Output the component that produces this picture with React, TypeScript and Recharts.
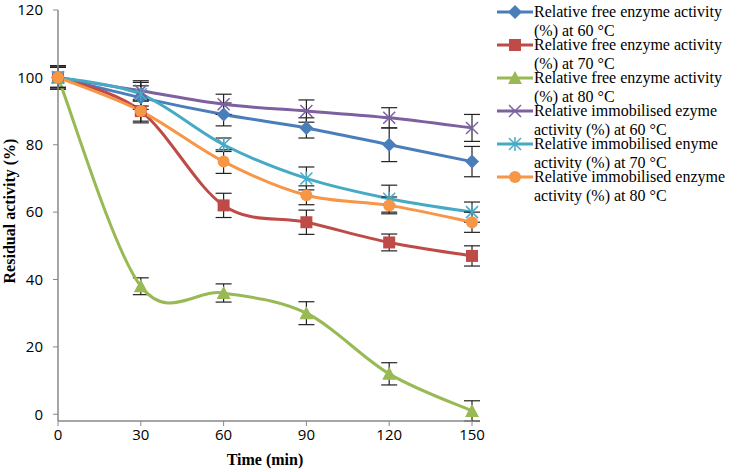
import { LineChart, Line, XAxis, YAxis, ErrorBar, Label } from 'recharts';

const times = [0, 30, 60, 90, 120, 150];

const free60 = [100, 94, 89, 85, 80, 75];
const free60Err = [3.5, 3.5, 3.4, 3, 5, 4.5];
const free70 = [100, 90, 62, 57, 51, 47];
const free70Err = [3.5, 3.5, 3.6, 3.6, 2.5, 3];
const free80 = [100, 38, 36, 30, 12, 1];
const free80Err = [3, 2.5, 2.7, 3.4, 3.3, 3];
const imm60 = [100, 96, 92, 90, 88, 85];
const imm60Err = [3, 3, 3, 3.3, 3, 4];
const imm70 = [100, 95, 80, 70, 64, 60];
const imm70Err = [3, 3.5, 2, 3.4, 4, 3];
const imm80 = [100, 90, 75, 65, 62, 57];
const imm80Err = [3, 3, 3.5, 2.8, 2.5, 3];

const yTicks = [0, 20, 40, 60, 80, 100, 120];

const series = [
    { key: 'free60', name: 'Relative free enzyme activity (%) at 60 °C', color: '#4A7EBB', shape: 'diamond' },
    { key: 'free70', name: 'Relative free enzyme activity (%) at 70 °C', color: '#BE4B48', shape: 'square' },
    { key: 'free80', name: 'Relative free enzyme activity (%) at 80 °C', color: '#98B954', shape: 'triangle' },
    { key: 'imm60', name: 'Relative immobilised ezyme activity (%) at 60 °C', color: '#7D60A0', shape: 'x' },
    { key: 'imm70', name: 'Relative immobilised enyme activity (%) at 70 °C', color: '#46AAC5', shape: 'star' },
    { key: 'imm80', name: 'Relative immobilised enzyme activity (%) at 80 °C', color: '#F79646', shape: 'circle' },
];

const data = times.map((t, i) => ({
    t,
    free60: free60[i], free60Err: free60Err[i],
    free70: free70[i], free70Err: free70Err[i],
    free80: free80[i], free80Err: free80Err[i],
    imm60: imm60[i], imm60Err: imm60Err[i],
    imm70: imm70[i], imm70Err: imm70Err[i],
    imm80: imm80[i], imm80Err: imm80Err[i],
}));

// excel-like smoothed line (catmull-rom through the points)
const excelSmooth = (ctx: any) => {
    let pts: number[][] = [];
    return {
        areaStart() {},
        areaEnd() {},
        lineStart() { pts = []; },
        point(x: number, y: number) { pts.push([+x, +y]); },
        lineEnd() {
            const n = pts.length;
            if (!n) return;
            ctx.moveTo(pts[0][0], pts[0][1]);
            for (let i = 0; i < n - 1; i++) {
                const p0 = pts[i - 1] || pts[i];
                const p1 = pts[i];
                const p2 = pts[i + 1];
                const p3 = pts[i + 2] || p2;
                ctx.bezierCurveTo(
                    p1[0] + (p2[0] - p0[0]) / 6, p1[1] + (p2[1] - p0[1]) / 6,
                    p2[0] - (p3[0] - p1[0]) / 6, p2[1] - (p3[1] - p1[1]) / 6,
                    p2[0], p2[1]
                );
            }
        },
    };
};

function Marker({ cx, cy, shape, color }: any) {
    const s = 6;
    if (shape === 'diamond')
        return <polygon points={`${cx},${cy - s - 1} ${cx + s + 1},${cy} ${cx},${cy + s + 1} ${cx - s - 1},${cy}`} fill={color} />;
    if (shape === 'square')
        return <rect x={cx - s} y={cy - s} width={2 * s} height={2 * s} fill={color} />;
    if (shape === 'triangle')
        return <polygon points={`${cx},${cy - s - 1} ${cx + s + 1},${cy + s} ${cx - s - 1},${cy + s}`} fill={color} />;
    if (shape === 'circle')
        return <circle cx={cx} cy={cy} r={s} fill={color} />;
    if (shape === 'x')
        return (
            <g stroke={color} strokeWidth={1.5}>
                <line x1={cx - s} y1={cy - s} x2={cx + s} y2={cy + s} />
                <line x1={cx - s} y1={cy + s} x2={cx + s} y2={cy - s} />
            </g>
        );
    return (
        <g stroke={color} strokeWidth={1.5}>
            <line x1={cx - s} y1={cy - s} x2={cx + s} y2={cy + s} />
            <line x1={cx - s} y1={cy + s} x2={cx + s} y2={cy - s} />
            <line x1={cx} y1={cy - s - 1} x2={cx} y2={cy + s + 1} />
        </g>
    );
}

function LegendBox() {
    return (
        <div style={{ position: 'absolute', left: 490, top: 0, width: 247, height: 220 }}>
            {series.map((s, i) => (
                <div key={s.key} style={{ position: 'absolute', left: 0, top: 2 + i * 33, width: 247 }}>
                    <svg width={38} height={20} style={{ position: 'absolute', left: 7, top: 0 }}>
                        <line x1={0} y1={10} x2={36} y2={10} stroke={s.color} strokeWidth={3} />
                        <Marker cx={18} cy={10} shape={s.shape} color={s.color} />
                    </svg>
                    <div
                        style={{
                            position: 'absolute',
                            left: 44,
                            top: 0,
                            width: 200,
                            fontFamily: '"Liberation Serif", "Times New Roman", serif',
                            fontSize: 16,
                            lineHeight: '19px',
                            color: '#000',
                            textAlign: 'left',
                        }}
                    >
                        {s.name}
                    </div>
                </div>
            ))}
        </div>
    );
}

const tickStyle = { fill: '#000', fontFamily: '"Open Sans", sans-serif', fontSize: 15 };
const axisLine = { stroke: '#888', strokeWidth: 1.5 };

export default function App() {
    return (
        <div style={{ position: 'absolute', left: 0, top: 0, width: 737, height: 472, background: '#fff' }}>
            <LineChart width={737} height={472} data={data} margin={{ top: 10, right: 265, bottom: 0, left: 0 }}>
                <XAxis
                    dataKey="t"
                    type="number"
                    domain={[0, 150]}
                    ticks={times}
                    height={51}
                    tick={tickStyle}
                    tickSize={5}
                    tickMargin={3}
                    axisLine={axisLine}
                    tickLine={{ stroke: '#888' }}
                >
                    <Label
                        content={() => (
                            <text x={265} y={465} textAnchor="middle" fontFamily='"Liberation Serif", serif' fontWeight="bold" fontSize={16} fill="#000">
                                Time (min)
                            </text>
                        )}
                    />
                </XAxis>
                <YAxis
                    domain={[0, 120]}
                    ticks={yTicks}
                    width={58}
                    tick={tickStyle}
                    tickSize={5}
                    tickMargin={10}
                    axisLine={axisLine}
                    tickLine={{ stroke: '#888' }}
                >
                    <Label
                        content={() => (
                            <text x={15} y={211} transform="rotate(-90 15 211)" textAnchor="middle" fontFamily='"Liberation Serif", serif' fontWeight="bold" fontSize={16} fill="#000">
                                Residual activity (%)
                            </text>
                        )}
                    />
                </YAxis>
                {series.map((s) => (
                    <Line
                        key={s.key}
                        dataKey={s.key}
                        name={s.name}
                        type={excelSmooth as any}
                        stroke={s.color}
                        strokeWidth={3}
                        isAnimationActive={false}
                        dot={(p: any) => <Marker key={`${s.key}-${p.index}`} cx={p.cx} cy={p.cy} shape={s.shape} color={s.color} />}
                        activeDot={false}
                    >
                        <ErrorBar dataKey={`${s.key}Err`} direction="y" width={8} stroke="#222" strokeWidth={1.2} />
                    </Line>
                ))}
            </LineChart>
            <LegendBox />
        </div>
    );
}
